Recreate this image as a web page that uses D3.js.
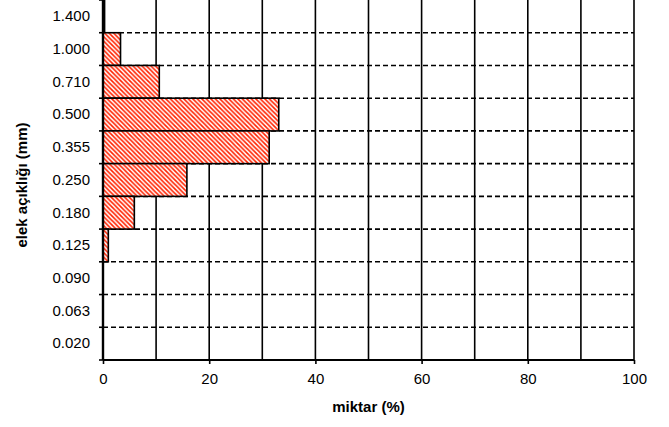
<!DOCTYPE html>
<html>
<head>
<meta charset="utf-8">
<script src="https://cdn.jsdelivr.net/npm/d3@7"></script>
<style>
  body { margin: 0; background: #fff; }
  svg { display: block; font-family: "Liberation Sans", Arial, sans-serif; }
</style>
</head>
<body>
<svg id="chart" width="669" height="427"></svg>
<script>
// sieve openings, top to bottom
const openings = ["1.400", "1.000", "0.710", "0.500", "0.355", "0.250", "0.180", "0.125", "0.090", "0.063", "0.020"];
// amount retained (%)
const amounts = [0.3, 3.3, 10.6, 33.1, 31.3, 15.8, 5.9, 1.0, 0, 0, 0];
const xTicks = [0, 20, 40, 60, 80, 100];
const xGrid = [10, 20, 30, 40, 50, 60, 70, 80, 90, 100];

const svg = d3.select("#chart");
const margin = { top: 0, left: 103, right: 35, bottom: 67 };
const width = 669 - margin.left - margin.right;
const height = 427 - margin.top - margin.bottom;

const x = d3.scaleLinear().domain([0, 100]).range([0, width]);
const y = d3.scaleBand().domain(openings).range([0, height]).padding(0);

// red diagonal hatch
const defs = svg.append("defs");
const pat = defs.append("pattern")
    .attr("id", "hatch")
    .attr("patternUnits", "userSpaceOnUse")
    .attr("width", 4.5).attr("height", 4.5);
pat.append("rect").attr("width", 4.5).attr("height", 4.5).attr("fill", "#ffffff");
pat.append("path")
    .attr("d", "M0,0 L4.5,4.5 M-1,3.5 L1,5.5 M3.5,-1 L5.5,1")
    .attr("fill", "none")
    .attr("stroke", "#ff2200")
    .attr("stroke-width", 1.6);

const g = svg.append("g").attr("transform", `translate(${margin.left},${margin.top})`);

// horizontal dashed separators between classes
const bounds = openings.slice(1).map(d => y(d));
g.append("g").selectAll("line")
    .data(bounds)
    .enter().append("line")
    .attr("x1", 0).attr("x2", width)
    .attr("y1", d => d).attr("y2", d => d)
    .attr("stroke", "#000")
    .attr("stroke-width", 1.6)
    .attr("stroke-dasharray", "5,3");

// vertical gridlines
g.append("g").selectAll("line")
    .data(xGrid)
    .enter().append("line")
    .attr("x1", d => x(d)).attr("x2", d => x(d))
    .attr("y1", 0).attr("y2", height)
    .attr("stroke", "#000")
    .attr("stroke-width", 1.6);

// bars
g.append("g").selectAll("rect")
    .data(openings.map((d, i) => ({ k: d, v: amounts[i] })).filter(d => d.v > 0))
    .enter().append("rect")
    .attr("x", 0)
    .attr("y", d => y(d.k))
    .attr("width", d => x(d.v))
    .attr("height", y.bandwidth())
    .attr("fill", "url(#hatch)")
    .attr("stroke", "#000")
    .attr("stroke-width", 1.6);

// y axis
const yAxis = g.append("g")
    .call(d3.axisLeft(y).tickSize(0).tickPadding(13));
yAxis.select(".domain").remove();
yAxis.selectAll("text").attr("font-size", 15).attr("fill", "#000")
    .attr("font-family", "Liberation Sans, Arial, sans-serif");
g.append("g").selectAll("line")
    .data([0].concat(bounds).concat([height]))
    .enter().append("line")
    .attr("x1", -4).attr("x2", 0)
    .attr("y1", d => d).attr("y2", d => d)
    .attr("stroke", "#000").attr("stroke-width", 1.6);
g.append("line")
    .attr("x1", 0).attr("x2", 0).attr("y1", 0).attr("y2", height)
    .attr("stroke", "#000").attr("stroke-width", 2.4);

// x axis
const xAxis = g.append("g")
    .attr("transform", `translate(0,${height})`)
    .call(d3.axisBottom(x).tickValues(xTicks).tickSize(4).tickPadding(9).tickFormat(d3.format("d")));
xAxis.select(".domain").attr("stroke-width", 2).attr("d", `M0,0H${width}`);
xAxis.selectAll("line").attr("stroke-width", 1.6);
xAxis.selectAll("text").attr("font-size", 15).attr("fill", "#000")
    .attr("font-family", "Liberation Sans, Arial, sans-serif");

// axis titles
svg.append("text")
    .attr("x", margin.left + width / 2)
    .attr("y", 412)
    .attr("text-anchor", "middle")
    .attr("font-size", 15).attr("font-weight", "bold")
    .text("miktar (%)");
svg.append("text")
    .attr("transform", `translate(27,${margin.top + height / 2 + 5}) rotate(-90)`)
    .attr("text-anchor", "middle")
    .attr("font-size", 15).attr("font-weight", "bold")
    .text("elek açıklığı (mm)");
</script>
</body>
</html>
